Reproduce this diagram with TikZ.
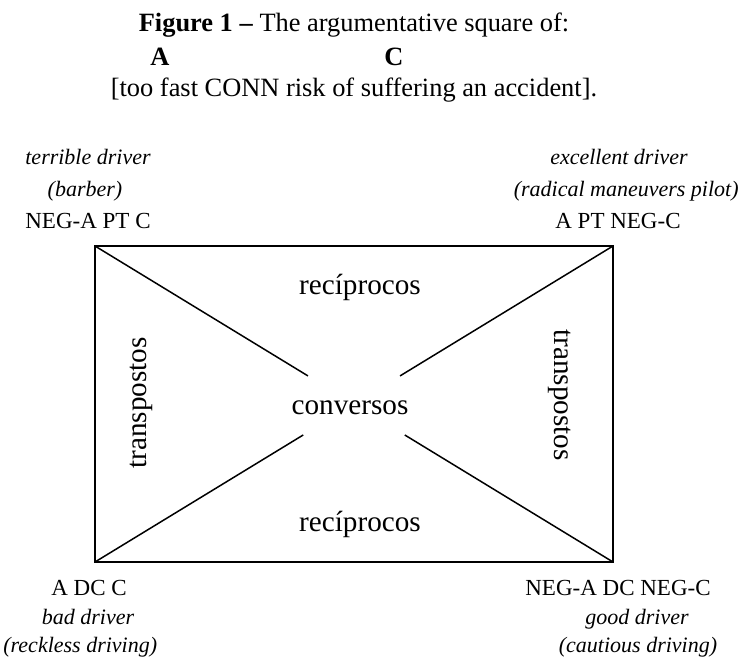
\documentclass[tikz,border=0pt]{standalone}
\usepackage{fontspec}
\setmainfont{Liberation Serif}
\usetikzlibrary{calc}
\usetikzlibrary{positioning}

\begin{document}
\begin{tikzpicture}[x=0.5pt, y=-0.5pt,
  every node/.style={inner sep=0pt, anchor=base},
  title/.style={font=\fontsize{13.2}{16}\selectfont},
  titlebf/.style={font=\fontsize{13.2}{16}\selectfont\bfseries},
  corner/.style={font=\fontsize{11.5}{14}\selectfont},
  cornerit/.style={font=\fontsize{11}{14}\selectfont\itshape},
  relation/.style={font=\fontsize{14.6}{17}\selectfont},
  side/.style={line width=0.75pt},
  ]
  \useasboundingbox (0,0) rectangle (741,664);

  % heading
  \node[title] (head) at (354,32) {\textbf{Figure 1 --} The argumentative square of:};
  \node[titlebf] (headA) at (160,65) {A};
  \node[titlebf] (headC) at (394,65) {C};
  \node[title] (headconn) at (354,97) {[too fast CONN risk of suffering an accident].};

  % square
  \coordinate (tl) at (95,246);
  \coordinate (tr) at (613,246);
  \coordinate (bl) at (95,562);
  \coordinate (br) at (613,562);
  \draw[side] (tl) rectangle (br);

  % diagonals, cut round the centre
  \coordinate (tlin) at ($(tl)!0.411!(br)$);
  \coordinate (brin) at ($(tl)!0.598!(br)$);
  \coordinate (blin) at ($(bl)!0.402!(tr)$);
  \coordinate (trin) at ($(bl)!0.589!(tr)$);
  \draw[side] (tl) -- (tlin);
  \draw[side] (br) -- (brin);
  \draw[side] (bl) -- (blin);
  \draw[side] (tr) -- (trin);

  % relations
  \node[relation] (recup) at (360,294) {recíprocos};
  \node[relation] (conv) at (350,415) {conversos};
  \node[relation] (recdown) at (360,531) {recíprocos};
  \node[relation, rotate=90, anchor=center] (transleft) at (141,403) {transpostos};
  \node[relation, rotate=-90, anchor=center] (transright) at (560,395) {transpostos};

  % NEG-A PT C
  \node[cornerit] (tl1) at (88,164) {terrible driver};
  \node[cornerit] (tl2) at (85,197) {(barber)};
  \node[corner] (tl3) at (88,228) {NEG-A PT C};
  % A PT NEG-C
  \node[cornerit] (tr1) at (619,164) {excellent driver};
  \node[cornerit, anchor=base east] (tr2) at (739,197) {(radical maneuvers pilot)};
  \node[corner] (tr3) at (618,228) {A PT NEG-C};
  % A DC C
  \node[corner] (bl1) at (89,596) {A DC C};
  \node[cornerit] (bl2) at (88,624) {bad driver};
  \node[cornerit, anchor=base west] (bl3) at (3,652) {(reckless driving)};
  % NEG-A DC NEG-C
  \node[corner] (br1) at (618,596) {NEG-A DC NEG-C};
  \node[cornerit] (br2) at (637,624) {good driver};
  \node[cornerit] (br3) at (638,652) {(cautious driving)};
\end{tikzpicture}
\end{document}
